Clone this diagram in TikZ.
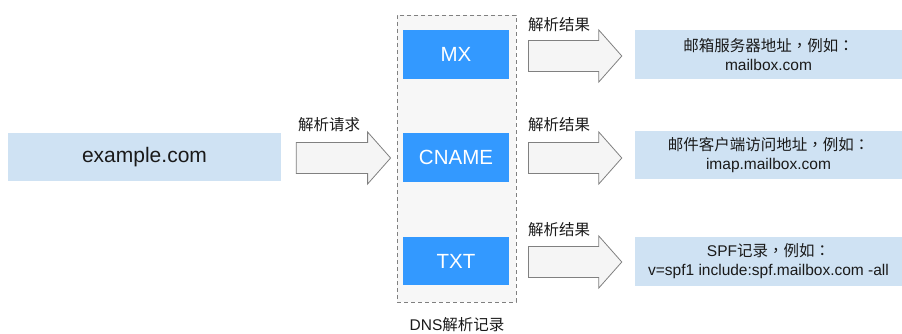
\documentclass[tikz,border=0pt]{standalone}
\usepackage{fontspec}
\setmainfont{Liberation Sans}
\newfontfamily\cjk{Noto Sans CJK SC}
\newfontfamily\cjkp{Noto Sans CJK TC}
\newcommand\zcomma{{\cjkp ，}}
\newcommand\zcolon{{\cjkp ：}}
\usetikzlibrary{calc}
\definecolor{lightblue}{RGB}{207,226,243}
\definecolor{recblue}{RGB}{51,153,255}
\definecolor{panelgray}{RGB}{247,247,247}
\definecolor{edgegray}{RGB}{128,128,128}
\definecolor{arrowfill}{RGB}{245,245,245}
\definecolor{txt}{RGB}{26,26,26}
\tikzset{
  infobox/.style={fill=lightblue, inner sep=0pt, text=txt, align=center},
  recbox/.style={fill=recblue, inner sep=0pt, minimum width=106pt, minimum height=49pt, text=white, font=\fontsize{20.5}{24}\selectfont},
  panel/.style={fill=panelgray, draw=edgegray, dashed, dash pattern=on 4pt off 3pt, line width=0.8pt, inner sep=0pt, minimum width=119pt, minimum height=287pt},
  barrow/.style={fill=arrowfill, draw=edgegray, line width=0.8pt, line join=miter},
  lbl/.style={text=txt, inner sep=0pt, font=\fontsize{15.5}{18}\selectfont},
  restext/.style={infobox, minimum width=267pt, font=\fontsize{15.5}{19}\selectfont}
}
\newcommand\blockarrow[2]{%
  \draw[barrow] let \p1=(#1), \p2=(#2) in
    (\x1,\y1+15.5pt) -- (\x2-23pt,\y1+15.5pt) -- (\x2-23pt,\y1+26pt) -- (\x2,\y1)
    -- (\x2-23pt,\y1-26pt) -- (\x2-23pt,\y1-15.5pt) -- (\x1,\y1-15.5pt) -- cycle;}
\begin{document}
\begin{tikzpicture}[x=1pt,y=-1pt]
\useasboundingbox (0,0) rectangle (902,334);
% left source box
\node[infobox, minimum width=273pt, minimum height=48pt, font=\fontsize{21}{25}\selectfont] (ex) at (144.5,157) {example.com};
% DNS panel
\node[panel] (dns) at (456.5,158.5) {};
\node[recbox] (mx) at (456,54.5) {MX};
\node[recbox] (cname) at (456,157.5) {CNAME};
\node[recbox, minimum height=48pt] (txtrec) at (456,261) {TXT};
\node[lbl] (dnslbl) at (457,325) {DNS{\cjk 解析记录}};
% result boxes
\node[restext, minimum height=49pt] (r1) at (768.5,54.5) {{\cjk 邮箱服务器地址}\zcomma{\cjk 例如}\zcolon\\mailbox.com};
\node[restext, minimum height=48pt] (r2) at (768.5,155) {{\cjk 邮件客户端访问地址}\zcomma{\cjk 例如}\zcolon\\imap.mailbox.com};
\node[restext, minimum height=49pt] (r3) at (768.5,261.5) {SPF{\cjk 记录}\zcomma{\cjk 例如}\zcolon\\v=spf1 include:spf.mailbox.com -all};
% arrow anchor points
\coordinate (a0s) at ($(ex.east)+(15,1)$);
\coordinate (a0e) at ($(dns.west |- a0s)+(-6,0)$);
\coordinate (a1s) at ($(dns.east |- mx.east)+(12,1.5)$);
\coordinate (a1e) at ($(r1.west |- a1s)+(-13,0)$);
\coordinate (a2s) at ($(dns.east |- cname.east)+(12,0.5)$);
\coordinate (a2e) at ($(r2.west |- a2s)+(-13,0)$);
\coordinate (a3s) at ($(dns.east |- txtrec.east)+(12,1)$);
\coordinate (a3e) at ($(r3.west |- a3s)+(-13,0)$);
\blockarrow{a0s}{a0e}
\blockarrow{a1s}{a1e}
\blockarrow{a2s}{a2e}
\blockarrow{a3s}{a3e}
% arrow labels
\node[lbl, anchor=west] (l0) at (298,125) {\cjk 解析请求};
\node[lbl, anchor=west] (l1) at (528,25) {\cjk 解析结果};
\node[lbl, anchor=west] (l2) at (528,125) {\cjk 解析结果};
\node[lbl, anchor=west] (l3) at (528,230) {\cjk 解析结果};
\end{tikzpicture}
\end{document}
